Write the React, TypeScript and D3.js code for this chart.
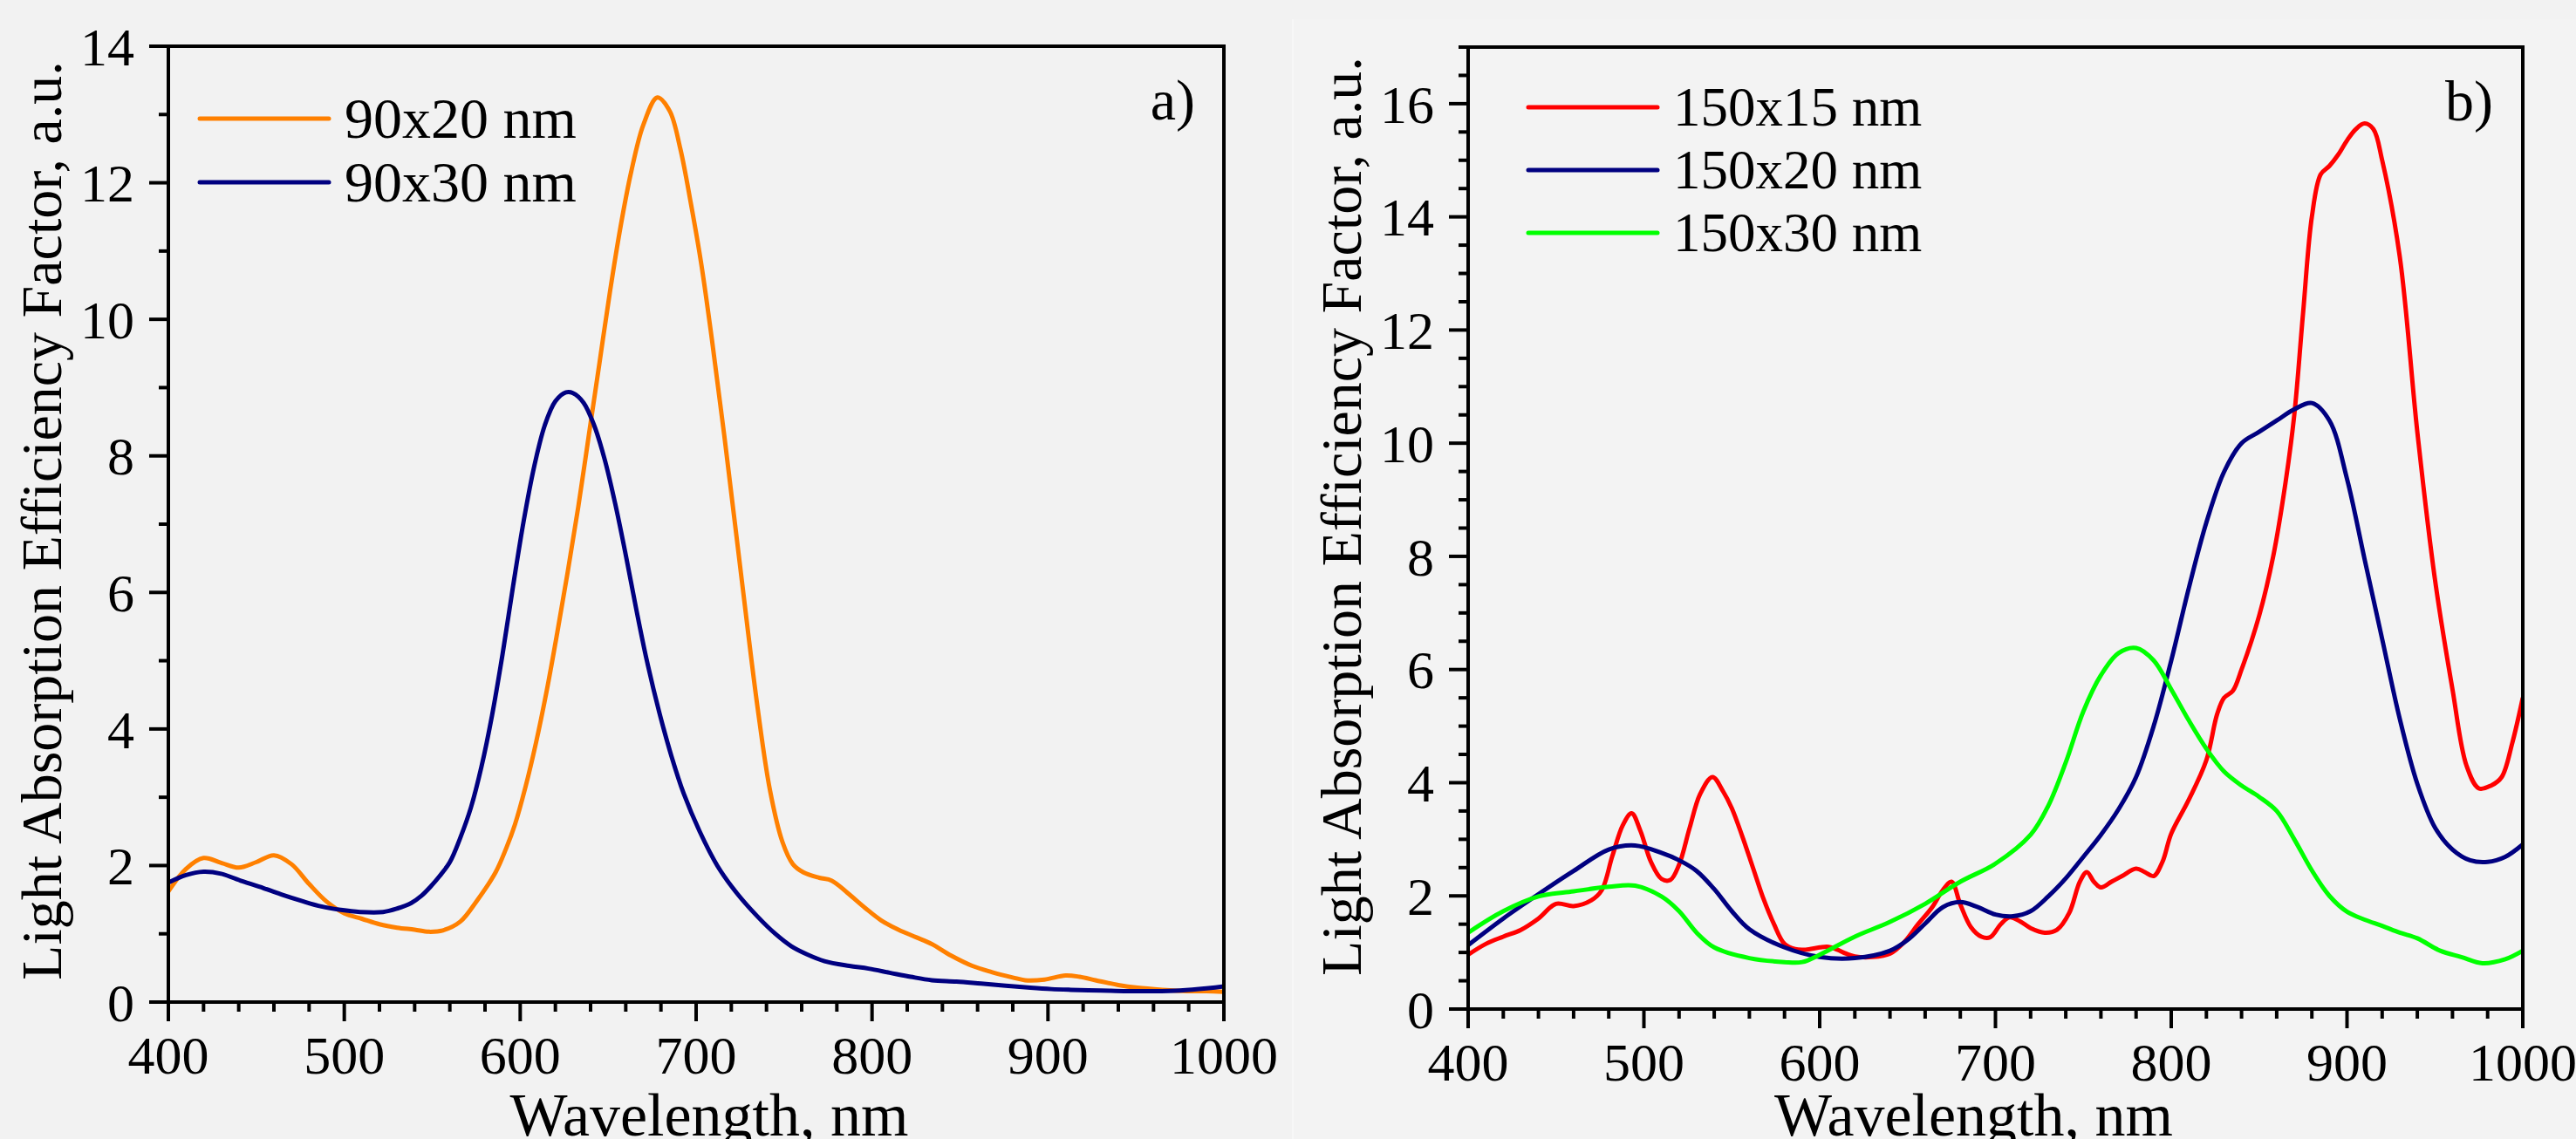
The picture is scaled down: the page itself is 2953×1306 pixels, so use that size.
import React from "react";
import * as d3 from "d3";

// panel a) 90 nm particles
const nmA20 = [400, 410, 420, 430, 440, 450, 460, 470, 480, 490, 500, 510, 520, 530, 540, 548, 556, 566, 575, 586, 592, 597, 603, 609, 615, 621, 627, 633, 639, 645, 651, 657, 663, 670, 678, 685, 691, 697, 703, 709, 716, 726, 735, 742, 749, 755, 761, 770, 777, 786, 796, 805, 815, 825, 834, 845, 857, 868, 880, 887, 898, 910, 918, 927, 940, 951, 965, 979, 990, 1000];
const valA20 = [1.62, 1.95, 2.11, 2.04, 1.97, 2.05, 2.15, 2.02, 1.73, 1.47, 1.3, 1.22, 1.14, 1.09, 1.06, 1.03, 1.05, 1.18, 1.47, 1.9, 2.25, 2.6, 3.15, 3.8, 4.55, 5.4, 6.3, 7.25, 8.3, 9.35, 10.4, 11.35, 12.15, 12.85, 13.25, 13.05, 12.5, 11.7, 10.8, 9.7, 8.3, 6.17, 4.3, 3.1, 2.35, 2.02, 1.9, 1.82, 1.78, 1.6, 1.38, 1.2, 1.06, 0.95, 0.85, 0.68, 0.53, 0.44, 0.36, 0.32, 0.33, 0.39, 0.37, 0.32, 0.25, 0.21, 0.18, 0.16, 0.16, 0.15];

const nmA30 = [400, 410, 420, 430, 442, 454, 465, 476, 487, 498, 509, 522, 530, 538, 544, 549, 554, 560, 566, 572, 578, 584, 590, 596, 602, 608, 614, 620, 626, 630, 636, 642, 648, 654, 660, 666, 672, 679, 686, 693, 702, 712, 723, 735, 745, 754, 763, 773, 787, 798, 810, 822, 834, 848, 862, 876, 890, 902, 913, 930, 945, 960, 975, 990, 1000];
const valA30 = [1.75, 1.86, 1.91, 1.88, 1.77, 1.67, 1.57, 1.48, 1.4, 1.35, 1.32, 1.32, 1.37, 1.45, 1.56, 1.69, 1.84, 2.05, 2.41, 2.85, 3.45, 4.2, 5.1, 6.1, 7.05, 7.85, 8.45, 8.8, 8.93, 8.92, 8.78, 8.45, 7.95, 7.3, 6.55, 5.75, 5.0, 4.25, 3.6, 3.05, 2.5, 2.0, 1.6, 1.25, 1.0, 0.82, 0.7, 0.6, 0.53, 0.49, 0.43, 0.37, 0.32, 0.3, 0.27, 0.24, 0.21, 0.19, 0.18, 0.17, 0.16, 0.16, 0.17, 0.2, 0.23];

// panel b) 150 nm particles
const nmB15 = [400, 410, 420, 430, 440, 450, 460, 470, 476, 482, 488, 493, 498, 504, 510, 515, 520, 526, 532, 539, 545, 550, 556, 562, 568, 574, 580, 586, 592, 600, 605, 610, 615, 620, 630, 640, 648, 656, 664, 670, 675, 680, 686, 692, 697, 703, 708, 714, 720, 728, 735, 742, 748, 752, 756, 760, 766, 772, 780, 785, 790, 795, 800, 810, 820, 826, 830, 835, 840, 850, 858, 865, 870, 875, 880, 885, 890, 895, 900, 905, 910, 915, 920, 930, 940, 950, 960, 968, 975, 982, 988, 994, 1000];
const valB15 = [0.96, 1.15, 1.28, 1.4, 1.6, 1.86, 1.82, 1.92, 2.1, 2.7, 3.25, 3.46, 3.15, 2.6, 2.3, 2.28, 2.55, 3.2, 3.8, 4.1, 3.85, 3.55, 3.05, 2.5, 1.95, 1.5, 1.15, 1.06, 1.05, 1.09, 1.1, 1.05, 0.98, 0.93, 0.92, 0.98, 1.18, 1.5, 1.8, 2.1, 2.25, 1.85, 1.45, 1.28, 1.27, 1.5, 1.62, 1.55, 1.43, 1.35, 1.4, 1.7, 2.25, 2.42, 2.25, 2.15, 2.25, 2.35, 2.48, 2.42, 2.35, 2.6, 3.1, 3.7, 4.4, 5.2, 5.5, 5.62, 6.0, 6.95, 8.0, 9.3, 10.5, 12.3, 14.0, 14.75, 14.9, 15.1, 15.35, 15.55, 15.65, 15.55, 15.0, 13.3, 10.2, 7.6, 5.65, 4.3, 3.9, 3.95, 4.1, 4.7, 5.5];

const nmB20 = [400, 420, 440, 460, 480, 495, 510, 520, 530, 540, 550, 560, 580, 600, 620, 640, 650, 660, 670, 680, 690, 700, 710, 720, 730, 740, 750, 760, 770, 780, 790, 800, 810, 820, 830, 840, 850, 860, 870, 880, 890, 900, 910, 920, 930, 940, 950, 960, 970, 980, 990, 1000];
const valB20 = [1.13, 1.6, 2.03, 2.44, 2.82, 2.89, 2.76, 2.63, 2.44, 2.12, 1.73, 1.41, 1.09, 0.92, 0.9, 1.03, 1.22, 1.51, 1.8, 1.89, 1.8, 1.67, 1.64, 1.73, 1.99, 2.31, 2.69, 3.08, 3.53, 4.1, 5.0, 6.16, 7.44, 8.6, 9.49, 10.0, 10.2, 10.4, 10.6, 10.71, 10.4, 9.37, 7.95, 6.54, 5.13, 3.98, 3.21, 2.82, 2.63, 2.6, 2.69, 2.91];

const nmB30 = [400, 420, 440, 460, 480, 495, 510, 520, 530, 540, 560, 580, 590, 600, 620, 640, 660, 680, 700, 720, 730, 740, 750, 760, 770, 780, 790, 800, 810, 820, 830, 840, 850, 860, 870, 880, 890, 900, 910, 920, 930, 940, 953, 965, 977, 990, 1000];
const valB30 = [1.35, 1.73, 1.99, 2.08, 2.16, 2.18, 1.99, 1.73, 1.35, 1.09, 0.9, 0.83, 0.83, 0.96, 1.28, 1.54, 1.86, 2.25, 2.57, 3.08, 3.59, 4.36, 5.26, 5.9, 6.29, 6.38, 6.16, 5.65, 5.1, 4.6, 4.2, 3.95, 3.75, 3.5, 3.0, 2.45, 2.0, 1.72, 1.58, 1.47, 1.35, 1.25, 1.03, 0.92, 0.81, 0.88, 1.03];

const seriesA = [
  { name: "90x20 nm", color: "#ff8000", nm: nmA20, val: valA20 },
  { name: "90x30 nm", color: "#000080", nm: nmA30, val: valA30 },
];
const seriesB = [
  { name: "150x15 nm", color: "#ff0000", nm: nmB15, val: valB15 },
  { name: "150x20 nm", color: "#000080", nm: nmB20, val: valB20 },
  { name: "150x30 nm", color: "#00ff00", nm: nmB30, val: valB30 },
];

const xTicks = [400, 500, 600, 700, 800, 900, 1000];
const yTitle = "Light Absorption Efficiency Factor, a.u.";
const xTitle = "Wavelength, nm";

const FONT = "'Liberation Serif', 'Times New Roman', serif";

type Series = { name: string; color: string; nm: number[]; val: number[] };

type PanelProps = {
  id: string;
  series: Series[];
  x0: number;
  x1: number;
  yTop: number;
  yBottom: number;
  yMax: number;
  yMinor: number;
  legendX: number;
  legendY: number;
  legendGap: number;
  legendFont: number;
  label: string;
  labelX: number;
  labelY: number;
  yTitleX: number;
  yTitleY: number;
  xTitleShift: number;
};

function Panel(p: PanelProps) {
  const x = d3.scaleLinear().domain([400, 1000]).range([p.x0, p.x1]);
  const y = d3.scaleLinear().domain([0, p.yMax]).range([p.yBottom, p.yTop]);

  const line = d3
    .line<[number, number]>()
    .x((d) => x(d[0]))
    .y((d) => y(d[1]))
    .curve(d3.curveCatmullRom.alpha(0.5));

  const yMajor = d3.range(0, p.yMax + 1e-9, 2);
  const yMinorTicks = d3
    .range(0, p.yMax + 1e-9, p.yMinor)
    .filter((v) => Math.abs(v / 2 - Math.round(v / 2)) > 1e-6);
  const xMinorTicks = d3.range(400, 1001, 20).filter((v) => v % 100 !== 0);

  const axisW = 4;
  const major = 22;
  const minor = 11;
  const tickFont = 62;

  return (
    <g>
      <defs>
        <clipPath id={`clip-${p.id}`}>
          <rect x={p.x0} y={p.yTop} width={p.x1 - p.x0} height={p.yBottom - p.yTop} />
        </clipPath>
      </defs>

      <g clipPath={`url(#clip-${p.id})`}>
        {p.series.map((s) => (
          <path
            key={s.name}
            d={line(s.nm.map((n, i) => [n, s.val[i]] as [number, number])) || ""}
            fill="none"
            stroke={s.color}
            strokeWidth={5}
            strokeLinejoin="round"
          />
        ))}
      </g>

      {/* frame */}
      <rect
        x={p.x0}
        y={p.yTop}
        width={p.x1 - p.x0}
        height={p.yBottom - p.yTop}
        fill="none"
        stroke="#000"
        strokeWidth={axisW}
      />

      {/* y ticks */}
      {yMajor.map((v) => (
        <g key={`ym${v}`}>
          <line x1={p.x0 - major} x2={p.x0} y1={y(v)} y2={y(v)} stroke="#000" strokeWidth={axisW} />
          <text
            x={p.x0 - 39}
            y={y(v)}
            dy="0.35em"
            textAnchor="end"
            fontFamily={FONT}
            fontSize={tickFont}
          >
            {v}
          </text>
        </g>
      ))}
      {yMinorTicks.map((v) => (
        <line key={`yn${v}`} x1={p.x0 - minor} x2={p.x0} y1={y(v)} y2={y(v)} stroke="#000" strokeWidth={axisW} />
      ))}

      {/* x ticks */}
      {xTicks.map((v) => (
        <g key={`xm${v}`}>
          <line x1={x(v)} x2={x(v)} y1={p.yBottom} y2={p.yBottom + major} stroke="#000" strokeWidth={axisW} />
          <text
            x={x(v)}
            y={p.yBottom + 82}
            textAnchor="middle"
            fontFamily={FONT}
            fontSize={tickFont}
          >
            {v}
          </text>
        </g>
      ))}
      {xMinorTicks.map((v) => (
        <line key={`xn${v}`} x1={x(v)} x2={x(v)} y1={p.yBottom} y2={p.yBottom + minor} stroke="#000" strokeWidth={axisW} />
      ))}

      {/* axis titles */}
      <text
        transform={`translate(${p.yTitleX},${p.yTitleY}) rotate(-90)`}
        textAnchor="middle"
        fontFamily={FONT}
        fontSize={66}
      >
        {yTitle}
      </text>
      <text
        x={(p.x0 + p.x1) / 2 + p.xTitleShift}
        y={1302}
        textAnchor="middle"
        fontFamily={FONT}
        fontSize={70}
      >
        {xTitle}
      </text>

      {/* legend */}
      {p.series.map((s, i) => {
        const ly = p.legendY + i * p.legendGap;
        return (
          <g key={`lg${s.name}`}>
            <line
              x1={p.legendX}
              x2={p.legendX + 148}
              y1={ly}
              y2={ly}
              stroke={s.color}
              strokeWidth={5}
              strokeLinecap="round"
            />
            <text x={p.legendX + 166} y={ly} dy="0.34em" fontFamily={FONT} fontSize={p.legendFont}>
              {s.name}
            </text>
          </g>
        );
      })}

      <text x={p.labelX} y={p.labelY} textAnchor="end" fontFamily={FONT} fontSize={66}>
        {p.label}
      </text>
    </g>
  );
}

export default function App() {
  return (
    <div style={{ position: "fixed", left: 0, top: 0 }}>
      <svg width={2953} height={1306} style={{ display: "block", background: "#f2f2f2" }}>
        <rect x={1482} y={22} width={1471} height={1284} fill="#f3f3f3" />
        <line x1={1482} x2={1482} y1={22} y2={1306} stroke="#f7f7f7" strokeWidth={2} />
        <Panel
          id="a"
          series={seriesA}
          x0={193}
          x1={1403}
          yTop={53}
          yBottom={1149}
          yMax={14}
          yMinor={1}
          legendX={229}
          legendY={136}
          legendGap={73}
          legendFont={66}
          label="a)"
          labelX={1370}
          labelY={137}
          yTitleX={70}
          yTitleY={597}
          xTitleShift={15}
        />
        <Panel
          id="b"
          series={seriesB}
          x0={1683}
          x1={2892}
          yTop={54}
          yBottom={1157}
          yMax={17}
          yMinor={0.5}
          legendX={1752}
          legendY={123}
          legendGap={72}
          legendFont={63}
          label="b)"
          labelX={2858}
          labelY={138}
          yTitleX={1560}
          yTitleY={592}
          xTitleShift={-25}
        />
      </svg>
    </div>
  );
}
